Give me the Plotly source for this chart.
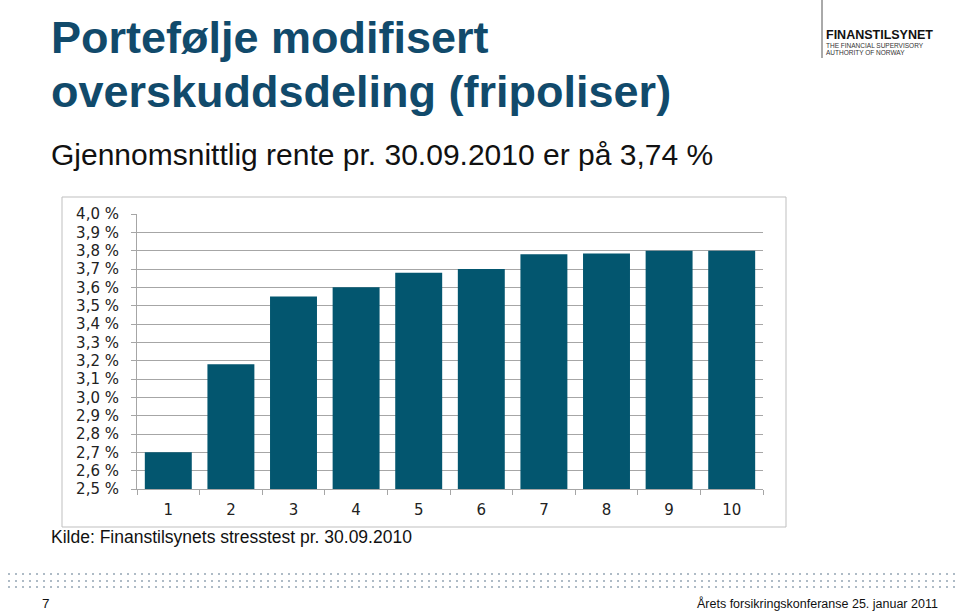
import plotly.graph_objects as go

categories = ["1", "2", "3", "4", "5", "6", "7", "8", "9", "10"]
rates = [2.70, 3.18, 3.55, 3.60, 3.68, 3.70, 3.78, 3.785, 3.80, 3.80]
ytick_vals = [2.5, 2.6, 2.7, 2.8, 2.9, 3.0, 3.1, 3.2, 3.3, 3.4, 3.5, 3.6, 3.7, 3.8, 3.9, 4.0]
ytick_text = ["2,5 %", "2,6 %", "2,7 %", "2,8 %", "2,9 %", "3,0 %", "3,1 %", "3,2 %",
              "3,3 %", "3,4 %", "3,5 %", "3,6 %", "3,7 %", "3,8 %", "3,9 %", "4,0 %"]

W, H = 960, 611
def px(x): return x / W
def py(y): return (H - y) / H

BAR = "#03566F"
TITLE = "#114A6B"
GRID = "#A6A6A6"

fig = go.Figure()
fig.add_trace(go.Bar(x=categories, y=rates, marker=dict(color=BAR, line=dict(width=0)),
                     base=0, hoverinfo="skip"))

fig.update_layout(
    template="none",
    width=W, height=H, autosize=False,
    margin=dict(l=0, r=0, t=0, b=0, pad=0),
    paper_bgcolor="white", plot_bgcolor="white",
    showlegend=False, bargap=0.25,
    font=dict(family="Liberation Sans, Arial", color="#000000"),
    xaxis=dict(domain=[px(137), px(763)], type="category", tickson="boundaries", automargin=False,
               ticks="outside", ticklen=5, tickcolor=GRID, showline=True, linecolor=GRID,
               linewidth=1, showgrid=False, ticklabelstandoff=7,
               tickfont=dict(family="DejaVu Sans", size=15, color="#222222")),
    yaxis=dict(domain=[py(489), py(214)], range=[2.5, 4.0], tickvals=ytick_vals, ticktext=ytick_text,
               automargin=False,
               ticks="outside", ticklen=5, tickcolor=GRID, showline=True, linecolor=GRID,
               linewidth=1, showgrid=True, gridcolor=GRID, gridwidth=1, zeroline=False,
               ticklabelstandoff=9,
               tickfont=dict(family="DejaVu Sans", size=15, color="#222222")),
)

shapes = []
# chart frame
shapes.append(dict(type="rect", xref="paper", yref="paper", x0=px(62), x1=px(786), y0=py(527), y1=py(197),
                   line=dict(color="#BFBFBF", width=1), layer="below"))
# logo vertical line
shapes.append(dict(type="line", xref="paper", yref="paper", x0=px(822), x1=px(822), y0=py(0), y1=py(58),
                   line=dict(color="#555555", width=1)))
# dotted bands
for yy in [574, 581, 587]:
    shapes.append(dict(type="line", xref="paper", yref="paper", x0=px(8), x1=px(960), y0=py(yy), y1=py(yy),
                       line=dict(color="#AEBBC6", width=2, dash="2px,5px")))
fig.update_layout(shapes=shapes)

ann = []
def text(x, y, s, size, color="#000000", bold=False, anchor="left", family="Liberation Sans, Arial"):
    ann.append(dict(xref="paper", yref="paper", x=px(x), y=py(y), text=("<b>%s</b>" % s) if bold else s,
                    showarrow=False, xanchor=anchor, yanchor="middle",
                    font=dict(family=family, size=size, color=color)))

text(49, 37, "Portefølje modifisert", 45, TITLE, bold=True)
text(49, 92, "overskuddsdeling (fripoliser)", 45, TITLE, bold=True)
text(49, 155, "Gjennomsnittlig rente pr. 30.09.2010 er på 3,74 %", 30, "#111111")
text(49, 537, "Kilde: Finanstilsynets stresstest pr. 30.09.2010", 17.5, "#111111")
text(40, 603, "7", 13.5, "#111111")
text(940, 603, "Årets forsikringskonferanse 25. januar 2011", 12.5, "#111111", anchor="right")
text(824, 35, "FINANSTILSYNET", 12.5, "#111111", bold=True)
text(824, 46, "THE FINANCIAL SUPERVISORY", 6.5, "#333333")
text(824, 53, "AUTHORITY OF NORWAY", 6.5, "#333333")
fig.update_layout(annotations=ann)

fig.write_html("out.html", config={"displayModeBar": False},
               post_script="document.body.style.margin='0';")
